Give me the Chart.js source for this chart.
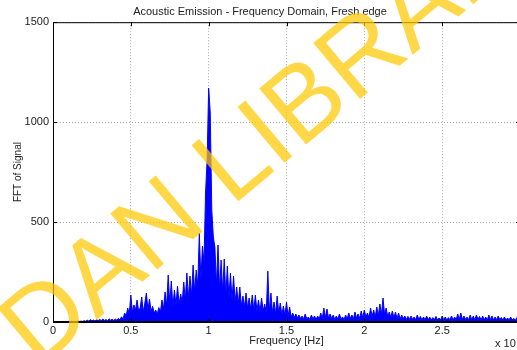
<!DOCTYPE html>
<html>
<head>
<meta charset="utf-8">
<script src="https://cdn.jsdelivr.net/npm/chart.js@4"></script>
<style>
  html, body { margin: 0; padding: 0; background: #fff; overflow: hidden; }
  #wrap { width: 522px; height: 350px; }
</style>
</head>
<body>
<div id="wrap"><canvas id="fftChart" width="522" height="350"></canvas></div>
<script>
// FFT magnitude, one value every 0.01 on the frequency axis
const freqStep = 0.01;

// 0.00 - 0.99
const fftBand0 = [
  2, 1, 3, 1, 2, 1, 3, 2, 2, 1,
  3, 2, 4, 2, 3, 2, 5, 3, 4, 3,
  6, 4, 9, 5, 12, 6, 10, 5, 11, 7,
  13, 7, 15, 8, 12, 6, 16, 9, 14, 8,
  15, 9, 18, 11, 26, 14, 45, 30, 70, 40,
  135, 50, 85, 60, 110, 55, 70, 125, 50, 95,
  145, 60, 115, 55, 78, 45, 60, 40, 72, 50,
  110, 65, 150, 80, 235, 90, 205, 75, 160, 85,
  180, 90, 140, 100, 200, 110, 245, 120, 230, 130,
  285, 150, 260, 180, 445, 210, 380, 300, 645, 810
];
// 1.00 - 1.99
const fftBand1 = [
  1170, 1050, 560, 425, 375, 180, 385, 160, 310, 150,
  315, 130, 280, 120, 245, 110, 230, 100, 175, 90,
  175, 80, 130, 75, 145, 70, 120, 65, 135, 60,
  135, 55, 110, 50, 120, 55, 90, 45, 255, 50,
  145, 45, 100, 40, 130, 42, 95, 35, 80, 32,
  100, 28, 75, 25, 45, 22, 40, 20, 35, 18,
  30, 15, 40, 16, 25, 13, 35, 15, 30, 13,
  30, 15, 45, 18, 70, 22, 65, 20, 40, 17,
  35, 13, 30, 15, 40, 16, 25, 13, 35, 15,
  45, 17, 35, 15, 50, 20, 40, 18, 55, 22
];
// 2.00 - 3.00
const fftBand2 = [
  60, 25, 45, 22, 70, 28, 60, 25, 75, 32,
  90, 35, 120, 38, 70, 28, 50, 24, 55, 20,
  50, 17, 45, 15, 35, 16, 30, 13, 28, 13,
  30, 13, 25, 11, 35, 13, 28, 11, 25, 11,
  30, 11, 25, 10, 22, 11, 28, 10, 20, 10,
  30, 11, 25, 10, 22, 11, 30, 10, 25, 11,
  40, 13, 45, 12, 30, 13, 25, 10, 35, 11,
  30, 11, 35, 13, 28, 10, 30, 11, 25, 10,
  35, 11, 30, 10, 25, 11, 30, 13, 22, 10,
  25, 10, 20, 11, 25, 10, 18, 8, 22, 9, 15
];

const xTickValues = [0, 0.5, 1, 1.5, 2, 2.5, 3];
const xTickLabels = ['0', '0.5', '1', '1.5', '2', '2.5', ''];
const yTickValues = [0, 500, 1000, 1500];
const yTickLabels = ['0', '500', '1000', '1500'];

const chartTitle = 'Acoustic Emission - Frequency Domain, Fresh edge';
const xTitle = 'Frequency [Hz]';
const yTitle = 'FFT of Signal';
const xExponent = 'x 10';
const watermark = 'DAN LIBRARY';

const fftValues = fftBand0.concat(fftBand1, fftBand2);
const fftPoints = fftValues.map((v, i) => ({ x: i * freqStep, y: v }));

const axisFont = { family: 'Liberation Sans, Arial, sans-serif', size: 11 };

// MATLAB style box: inward ticks, top/right edges, exponent and the watermark
const matlabBox = {
  id: 'matlabBox',
  afterDatasetsDraw(chart) {
    const { ctx, chartArea: a, scales: { x, y } } = chart;
    ctx.save();
    ctx.strokeStyle = '#000';
    ctx.lineWidth = 1;
    ctx.beginPath();
    ctx.moveTo(a.left + 0.5, a.top);
    ctx.lineTo(a.left + 0.5, a.bottom);
    ctx.moveTo(a.left, a.bottom - 0.5);
    ctx.lineTo(a.right, a.bottom - 0.5);
    ctx.moveTo(a.left, a.top + 0.5);
    ctx.lineTo(a.right, a.top + 0.5);
    ctx.moveTo(a.right - 0.5, a.top);
    ctx.lineTo(a.right - 0.5, a.bottom);
    xTickValues.forEach(v => {
      const px = Math.round(x.getPixelForValue(v)) + 0.5;
      ctx.moveTo(px, a.bottom);
      ctx.lineTo(px, a.bottom - 4);
      ctx.moveTo(px, a.top);
      ctx.lineTo(px, a.top + 4);
    });
    yTickValues.forEach(v => {
      const py = Math.round(y.getPixelForValue(v)) + 0.5;
      ctx.moveTo(a.left, py);
      ctx.lineTo(a.left + 4, py);
      ctx.moveTo(a.right, py);
      ctx.lineTo(a.right - 4, py);
    });
    ctx.stroke();

    // exponent under the right end of the x axis
    ctx.fillStyle = '#222';
    ctx.font = '11px Liberation Sans, Arial, sans-serif';
    ctx.textBaseline = 'middle';
    ctx.textAlign = 'left';
    ctx.fillText(xExponent, a.right - 25, 344);
    ctx.font = '8px Liberation Sans, Arial, sans-serif';
    ctx.fillText('5', a.right - 1, 338);
    ctx.restore();
  },
  afterDraw(chart) {
    const ctx = chart.ctx;
    ctx.save();
    ctx.font = '106px Liberation Sans, Arial, sans-serif';
    ctx.fillStyle = 'rgba(255, 200, 0, 0.72)';
    ctx.textBaseline = 'alphabetic';
    ctx.textAlign = 'left';
    const ang = -40 * Math.PI / 180;
    // put the centre of the "B" near (302, 98)
    const pre = ctx.measureText(watermark.slice(0, watermark.indexOf('B'))).width;
    const bw = ctx.measureText('B').width;
    const dx = pre + bw / 2, dy = -0.36 * 106;
    const ox = 302 - (dx * Math.cos(ang) - dy * Math.sin(ang));
    const oy = 98 - (dx * Math.sin(ang) + dy * Math.cos(ang));
    ctx.translate(ox, oy);
    ctx.rotate(ang);
    ctx.fillText(watermark, 0, 0);
    ctx.restore();
  }
};

new Chart(document.getElementById('fftChart'), {
  type: 'line',
  data: {
    datasets: [{
      data: fftPoints,
      borderColor: '#0000ff',
      backgroundColor: '#0000ff',
      borderWidth: 1,
      pointRadius: 0,
      tension: 0,
      fill: 'origin'
    }]
  },
  options: {
    responsive: false,
    animation: false,
    layout: { padding: { left: 0, right: 2, top: 0, bottom: 0 } },
    plugins: {
      legend: { display: false },
      tooltip: { enabled: false },
      title: {
        display: true,
        text: chartTitle,
        color: '#222',
        font: { family: axisFont.family, size: 11, weight: 'normal' },
        padding: { top: 5, bottom: 4 }
      }
    },
    scales: {
      x: {
        type: 'linear',
        min: 0,
        max: 3,
        afterBuildTicks: s => { s.ticks = xTickValues.map(v => ({ value: v })); },
        afterFit: s => { s.height = 28; },
        ticks: {
          color: '#222',
          font: axisFont,
          padding: 2,
          maxRotation: 0,
          callback: v => xTickLabels[xTickValues.indexOf(v)]
        },
        grid: { color: '#aaa', drawTicks: false },
        border: { display: true, color: '#000', dash: [1, 2] },
        title: {
          display: true,
          text: xTitle,
          color: '#222',
          font: axisFont,
          padding: { top: 0, bottom: 2 }
        }
      },
      y: {
        min: 0,
        max: 1500,
        afterBuildTicks: s => { s.ticks = yTickValues.map(v => ({ value: v })); },
        afterFit: s => { s.width = 53; },
        ticks: {
          color: '#222',
          font: axisFont,
          padding: 4,
          callback: v => yTickLabels[yTickValues.indexOf(v)]
        },
        grid: { color: '#aaa', drawTicks: false },
        border: { display: true, color: '#000', dash: [1, 2] },
        title: {
          display: true,
          text: yTitle,
          color: '#222',
          font: { family: axisFont.family, size: 10 },
          padding: { top: 12, bottom: 0 }
        }
      }
    }
  },
  plugins: [matlabBox]
});
</script>
</body>
</html>
